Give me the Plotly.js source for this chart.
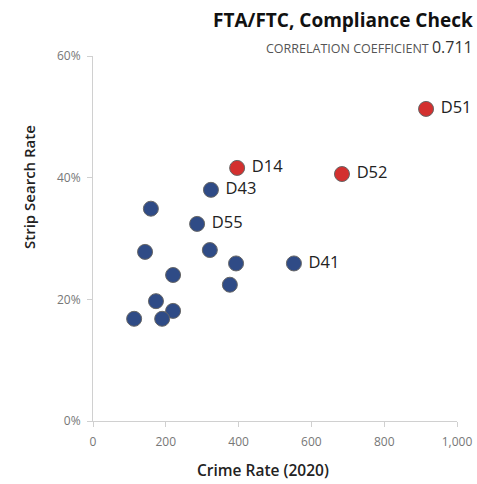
<!DOCTYPE html>
<html>
<head>
<meta charset="utf-8">
<script src="https://cdn.plot.ly/plotly-3.0.1.min.js"></script>
<style>html,body{margin:0;padding:0;background:#fff;}#chart{width:477px;height:484px;}</style>
</head>
<body>
<div id="chart"></div>
<script>
const districts = ["D51","D14","D52","D43","","D55","","","","D41","","","","","",""];
const crimeRate = [915, 396, 684, 324, 159, 286, 143, 321, 393, 552, 220, 376, 173, 220, 113, 190];
const stripRate = [0.513, 0.416, 0.406, 0.380, 0.349, 0.324, 0.278, 0.281, 0.259, 0.259, 0.240, 0.224, 0.197, 0.181, 0.168, 0.168];
const flagged   = [true, true, true, false, false, false, false, false, false, false, false, false, false, false, false, false];
const xTicks = [0, 200, 400, 600, 800, 1000];
const yTicks = [0, 0.2, 0.4, 0.6];

const FONT = "Open Sans, Noto Sans, sans-serif";
const blue = "#2F4B86", red = "#D3302F";

function pick(cond) {
  const idx = crimeRate.map((_, i) => i).filter(i => flagged[i] === cond);
  return {
    x: idx.map(i => crimeRate[i]),
    y: idx.map(i => stripRate[i]),
    text: idx.map(i => districts[i] ? "\u00a0" + districts[i] : ""),
  };
}
const b = pick(false), r = pick(true);

const traces = [
  {type: "scatter", mode: "markers+text", x: b.x, y: b.y, text: b.text,
   textposition: "middle right", textfont: {family: FONT, size: 16.5, color: "#222"},
   marker: {size: 15, color: blue, line: {color: "#666", width: 1}}, cliponaxis: false, hoverinfo: "none"},
  {type: "scatter", mode: "markers+text", x: r.x, y: r.y, text: r.text,
   textposition: "middle right", textfont: {family: FONT, size: 16.5, color: "#222"},
   marker: {size: 15, color: red, line: {color: "#666", width: 1}}, cliponaxis: false, hoverinfo: "none"}
];

const layout = {
  width: 477, height: 484,
  margin: {l: 93, r: 20, t: 56, b: 63},
  paper_bgcolor: "#fff", plot_bgcolor: "#fff",
  showlegend: false,
  font: {family: FONT, color: "#777"},
  xaxis: {
    range: [0, 1000], tickvals: xTicks, tickformat: ",d",
    showgrid: false, zeroline: false, showline: true, linecolor: "#d0d0d0", linewidth: 1,
    ticks: "outside", ticklen: 5, tickcolor: "#d0d0d0", ticklabelstandoff: 5,
    tickfont: {family: FONT, size: 12, color: "#777"}
  },
  yaxis: {
    range: [0, 0.6], tickvals: yTicks, tickformat: ".0%",
    showgrid: false, zeroline: false, showline: true, linecolor: "#d0d0d0", linewidth: 1,
    ticks: "outside", ticklen: 5, tickcolor: "#d0d0d0", ticklabelstandoff: 4,
    tickfont: {family: FONT, size: 12, color: "#777"}
  },
  annotations: [
    {xref: "paper", yref: "paper", x: 1.049, y: 1.0 + (56 - 20) / 365, xanchor: "right", yanchor: "middle",
     text: "<b>FTA/FTC, Compliance Check</b>", showarrow: false,
     font: {family: FONT, size: 19, color: "#111"}},
    {xref: "paper", yref: "paper", x: 1.049, y: 1.0 + (56 - 47) / 365, xanchor: "right", yanchor: "middle",
     text: "<span style='font-size:12.5px;color:#555'>CORRELATION COEFFICIENT</span> <span style='font-size:16px;color:#333'>0.711</span>",
     showarrow: false, font: {family: FONT, size: 12.5, color: "#555"}},
    {xref: "paper", yref: "paper", x: (29 - 93) / 364, y: (421 - 187) / 365, xanchor: "center", yanchor: "middle",
     textangle: -90, text: "Strip Search Rate", showarrow: false,
     font: {family: FONT, size: 15, weight: 600, color: "#222"}},
    {xref: "paper", yref: "paper", x: (263 - 93) / 364, y: (421 - 470) / 365, xanchor: "center", yanchor: "middle",
     text: "Crime Rate (2020)", showarrow: false,
     font: {family: FONT, size: 15.5, weight: 600, color: "#222"}}
  ]
};

Plotly.newPlot("chart", traces, layout, {displayModeBar: false, staticPlot: true});
</script>
</body>
</html>
